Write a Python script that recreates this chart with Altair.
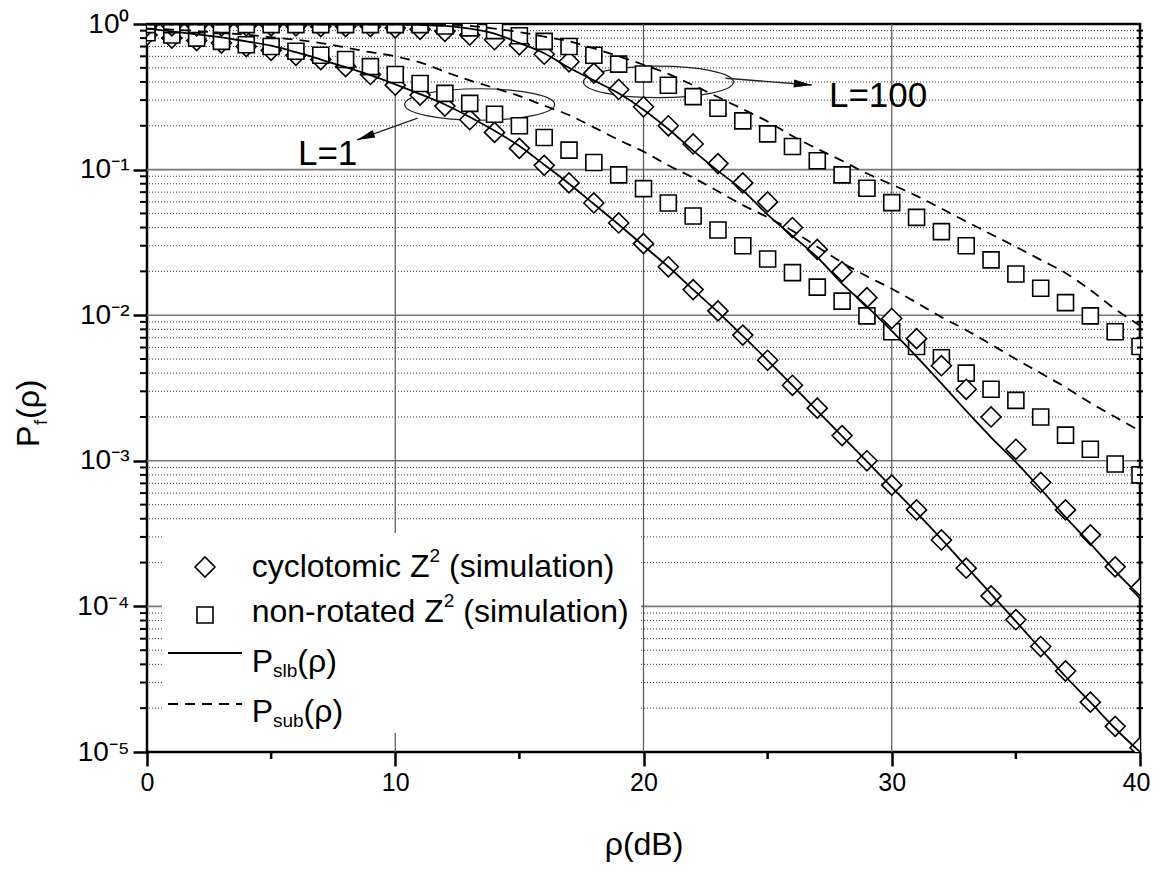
import altair as alt
import pandas as pd

FONT = "Liberation Sans"

# ---------------- data ----------------
rho = list(range(41))

cyc_L1 = [0.84, 0.80, 0.77, 0.74, 0.70, 0.66, 0.61, 0.57, 0.51, 0.45,
          0.38, 0.325, 0.273, 0.22, 0.18, 0.14, 0.107, 0.081, 0.059, 0.043,
          0.031, 0.0215, 0.015, 0.0107, 0.0073, 0.0049, 0.0033, 0.0023, 0.00149, 0.00100,
          0.00068, 0.00046, 0.000286, 0.000183, 0.000118, 8.1e-5, 5.3e-5, 3.6e-5, 2.2e-5, 1.5e-5,
          1.07e-5]
nonrot_L1 = [0.87, 0.84, 0.80, 0.76, 0.72, 0.70, 0.65, 0.61, 0.57, 0.51,
             0.45, 0.39, 0.334, 0.285, 0.24, 0.20, 0.166, 0.136, 0.112, 0.092,
             0.074, 0.059, 0.048, 0.0385, 0.030, 0.0243, 0.0196, 0.0156, 0.0125, 0.0099,
             0.0077, 0.0061, 0.0051, 0.0040, 0.0031, 0.0026, 0.0020, 0.0015, 0.0012, 0.00095,
             0.00080]
slb_L1 = [0.93, 0.89, 0.85, 0.81, 0.76, 0.71, 0.64, 0.57, 0.505, 0.445,
          0.385, 0.33, 0.28, 0.23, 0.185, 0.145, 0.108, 0.080, 0.058, 0.042,
          0.030, 0.0215, 0.0150, 0.0105, 0.0072, 0.0049, 0.0033, 0.0022, 0.00148, 0.00099,
          0.00066, 0.00044, 0.00029, 0.000188, 0.000122, 7.9e-5, 5.1e-5, 3.3e-5, 2.2e-5, 1.45e-5,
          1.0e-5]
sub_L1 = [0.93, 0.915, 0.895, 0.87, 0.845, 0.81, 0.78, 0.74, 0.69, 0.64,
          0.60, 0.545, 0.47, 0.41, 0.363, 0.32, 0.275, 0.237, 0.195, 0.16,
          0.133, 0.107, 0.088, 0.071, 0.057, 0.047, 0.038, 0.0295, 0.023, 0.0185,
          0.0152, 0.0122, 0.0097, 0.0079, 0.0063, 0.0050, 0.0040, 0.0032, 0.0025, 0.0020,
          0.0016]

cyc_L100 = [0.97, 0.97, 0.97, 0.97, 0.97, 0.97, 0.97, 0.96, 0.96, 0.96,
            0.94, 0.92, 0.89, 0.84, 0.78, 0.72, 0.62, 0.55, 0.46, 0.355,
            0.27, 0.20, 0.15, 0.110, 0.081, 0.060, 0.040, 0.0283, 0.0199, 0.0132,
            0.0095, 0.0069, 0.0045, 0.0031, 0.0020, 0.0012, 0.00071, 0.00046, 0.00031, 0.000187,
            0.000133]
nonrot_L100 = [0.99, 0.99, 0.99, 0.99, 0.99, 0.99, 0.99, 0.99, 0.99, 0.99,
               0.99, 0.99, 0.97, 0.94, 0.90, 0.83, 0.76, 0.70, 0.61, 0.53,
               0.454, 0.38, 0.317, 0.264, 0.216, 0.176, 0.144, 0.115, 0.092, 0.0744,
               0.0593, 0.047, 0.0375, 0.030, 0.024, 0.0192, 0.0153, 0.0122, 0.0099, 0.0077,
               0.0061]
slb_L100 = [0.99, 0.99, 0.99, 0.99, 0.99, 0.99, 0.99, 0.99, 0.99, 0.99,
            0.99, 0.985, 0.97, 0.93, 0.86, 0.74, 0.63, 0.50, 0.41, 0.334,
            0.258, 0.19, 0.135, 0.098, 0.072, 0.049, 0.035, 0.025, 0.0165, 0.0115,
            0.0078, 0.0052, 0.0034, 0.0022, 0.00145, 0.00098, 0.00064, 0.00041, 0.00027, 0.000175,
            0.000118]
sub_L100 = [0.995, 0.995, 0.995, 0.995, 0.995, 0.995, 0.995, 0.995, 0.995, 0.995,
            0.995, 0.995, 0.995, 0.97, 0.93, 0.88, 0.82, 0.76, 0.68, 0.60,
            0.525, 0.454, 0.38, 0.315, 0.26, 0.214, 0.17, 0.139, 0.115, 0.094,
            0.079, 0.066, 0.054, 0.044, 0.036, 0.0295, 0.024, 0.0195, 0.0149, 0.011,
            0.0085]

# axis / grid values
x_ticks = [0, 10, 20, 30, 40]
x_minor = [5, 15, 25, 35]
x_grid = [10, 20, 30]
y_decades = [1, 0.1, 0.01, 0.001, 0.0001, 0.00001]
y_major_grid = [0.1, 0.01, 0.001, 0.0001]
mantissas = [2, 3, 4, 5, 6, 7, 8, 9]
y_minor = [m * d for d in y_decades[1:] for m in mantissas]

# annotations (data coordinates)
ell_x = [13.4, 20.6]
ell_y = [0.28, 0.40]
arrow_x = [10.9, 23.3]
arrow_y = [0.226, 0.424]
arrow_x2 = [8.46, 26.78]
arrow_y2 = [0.160, 0.381]
arrow_angle = [250, 95]
label_text = ["L=1", "L=100"]
label_x = [6.08, 27.47]
label_y = [0.1076, 0.269]

W, H = 993, 728

# ---------------- shared scales & axes ----------------
xs = alt.Scale(domain=[0, 40], nice=False, zero=False)
ys = alt.Scale(type="log", domain=[1e-5, 1], nice=False)

AX_X = alt.Axis(
    values=x_ticks, title="ρ(dB)", grid=False, domain=False, tickSize=14,
    tickWidth=2.5, tickColor="black", labelFont=FONT, labelFontSize=25,
    labelColor="black", labelPadding=4, titleFont=FONT, titleFontSize=32,
    titleFontWeight="normal", titleColor="black", titlePadding=34, labelFlush=False,
    labelOffset={"condition": {"test": "datum.value == 40", "value": -4}, "value": 0})
AX_Y = alt.Axis(
    values=y_decades, grid=False, domain=False, tickSize=14, tickWidth=2.5,
    tickColor="black", labelFont=FONT, labelFontSize=28, labelColor="black",
    labelPadding=4, title=None,
    labelExpr="'10' + ['⁰','⁻¹','⁻²','⁻³','⁻⁴','⁻⁵'][round(-log(datum.value)/LN10)]")


def X(f="x"):
    return alt.X(f"{f}:Q", scale=xs, axis=AX_X)


def Y(f="y"):
    return alt.Y(f"{f}:Q", scale=ys, axis=AX_Y)


one = pd.DataFrame({"k": [0]})


def txt(s, x, y, size, angle=0):
    return alt.Chart(one).mark_text(
        text=s, font=FONT, fontSize=size, align="left", baseline="alphabetic",
        angle=angle, color="black"
    ).encode(x=alt.value(x), y=alt.value(y))


def series_df(vals):
    return pd.DataFrame({"x": rho, "y": vals})


# ---------------- grid ----------------
minor_grid = alt.Chart(pd.DataFrame({"y": y_minor})).mark_rule(
    color="#3a3a3a", strokeWidth=1, strokeDash=[1, 2]).encode(y=Y())
major_grid = alt.Chart(pd.DataFrame({"y": y_major_grid})).mark_rule(
    color="#777777", strokeWidth=1.6).encode(y=Y())
vert_grid = alt.Chart(pd.DataFrame({"x": x_grid})).mark_rule(
    color="#555555", strokeWidth=1.2).encode(x=X())

legend_box = alt.Chart(one).mark_rect(fill="white").encode(
    x=alt.value(15), x2=alt.value(494), y=alt.value(509), y2=alt.value(709))

# ---------------- annotations ----------------
k = 0.5523
r = 0.21
ell_path = (f"M -1 0 C -1 {-k*r:.4f} {-k:.4f} {-r} 0 {-r} C {k:.4f} {-r} 1 {-k*r:.4f} 1 0 "
            f"C 1 {k*r:.4f} {k:.4f} {r} 0 {r} C {-k:.4f} {r} -1 {k*r:.4f} -1 0 Z")
ann = pd.DataFrame({"x": ell_x, "y": ell_y})
ellipses = alt.Chart(ann).mark_point(
    shape=ell_path, size=22500, filled=False, stroke="#222222", strokeWidth=1.2, opacity=1
).encode(x=X(), y=Y())

arr = pd.DataFrame({"x": arrow_x, "y": arrow_y, "x2": arrow_x2, "y2": arrow_y2, "a": arrow_angle})
arrow_lines = alt.Chart(arr).mark_rule(color="#222222", strokeWidth=1.3).encode(
    x=X(), y=Y(), x2="x2:Q", y2="y2:Q")
arrow_heads = alt.Chart(arr).mark_point(
    shape="M 0 0 L 0.45 2 L -0.45 2 Z", size=324, filled=True, color="black", opacity=1
).encode(x=X("x2"), y=Y("y2"), angle=alt.Angle("a:Q", scale=None))

labs = pd.DataFrame({"x": label_x, "y": label_y, "t": label_text})
l_labels = alt.Chart(labs).mark_text(
    font=FONT, fontSize=35, align="left", baseline="alphabetic", color="black"
).encode(x=X(), y=Y(), text="t:N")


# ---------------- data layers ----------------
def line_layer(vals, dash):
    kw = dict(color="black", strokeWidth=1.8, clip=True, interpolate="monotone")
    if dash:
        kw["strokeDash"] = [10, 7]
    return alt.Chart(series_df(vals)).mark_line(**kw).encode(x=X(), y=Y())


def point_layer(vals, shape, size):
    return alt.Chart(series_df(vals)).mark_point(
        shape=shape, size=size, filled=True, fill="white", stroke="black",
        strokeWidth=1.6, opacity=1, clip=True
    ).encode(x=X(), y=Y())


pts = [
    point_layer(cyc_L1, "diamond", 400),
    point_layer(nonrot_L1, "square", 256),
    point_layer(cyc_L100, "diamond", 400),
    point_layer(nonrot_L100, "square", 256),
]
lines = [
    line_layer(slb_L1, False), line_layer(sub_L1, True),
    line_layer(slb_L100, False), line_layer(sub_L100, True),
]

# ---------------- minor ticks (left, bottom) and small ticks on the right frame ----------------
y_minor_ticks = alt.Chart(pd.DataFrame({"y": y_minor})).mark_rule(
    color="black", strokeWidth=2).encode(y=Y(), x=alt.value(-7), x2=alt.value(0))
x_minor_ticks = alt.Chart(pd.DataFrame({"x": x_minor})).mark_rule(
    color="black", strokeWidth=2.5).encode(x=X(), y=alt.value(H), y2=alt.value(H + 7))
right_ticks = alt.Chart(pd.DataFrame({"y": y_minor + y_major_grid})).mark_rule(
    color="black", strokeWidth=2).encode(y=Y(), x=alt.value(W - 3), x2=alt.value(W + 3))

# ---------------- legend (manual, with sub/superscripts) ----------------
leg_diamond = alt.Chart(one).mark_point(
    shape="diamond", size=400, filled=True, fill="white", stroke="black", strokeWidth=1.6, opacity=1
).encode(x=alt.value(58), y=alt.value(543))
leg_square = alt.Chart(one).mark_point(
    shape="square", size=256, filled=True, fill="white", stroke="black", strokeWidth=1.6, opacity=1
).encode(x=alt.value(58), y=alt.value(591))
leg_solid = alt.Chart(one).mark_rule(color="black", strokeWidth=1.8).encode(
    x=alt.value(21), x2=alt.value(95), y=alt.value(629))
leg_dash = alt.Chart(one).mark_rule(color="black", strokeWidth=1.8, strokeDash=[10, 7]).encode(
    x=alt.value(21), x2=alt.value(95), y=alt.value(680))

FS, SS = 32, 19
legend_text = [
    txt("cyclotomic Z", 104.7, 553, FS), txt("2", 282.5, 538, SS), txt("(simulation)", 302, 553, FS),
    txt("non-rotated Z", 104.7, 598, FS), txt("2", 296.8, 583, SS), txt("(simulation)", 316.3, 598, FS),
    txt("P", 104.7, 648, FS), txt("slb", 126, 653, SS), txt("(ρ)", 150.3, 648, FS),
    txt("P", 104.7, 698, FS), txt("sub", 126, 703, SS), txt("(ρ)", 156.6, 698, FS),
]

# y axis title P_f(ρ), rotated
y_title = [
    txt("P", -108, 423, 32, angle=270),
    txt("f", -100, 401, 19, angle=270),
    txt("(ρ)", -108, 395, 32, angle=270),
]

chart = alt.layer(
    minor_grid, major_grid, vert_grid, legend_box,
    ellipses, arrow_lines, arrow_heads,
    *pts, *lines,
    leg_diamond, leg_square, leg_solid, leg_dash, *legend_text,
    l_labels, y_minor_ticks, x_minor_ticks, right_ticks, *y_title,
).properties(
    width=W, height=H,
    padding={"left": 139, "top": 16, "right": 11, "bottom": 113},
    autosize=alt.AutoSizeParams(type="none"),
).configure_view(stroke="black", strokeWidth=2.5)

chart.save("out.html", embed_options={"renderer": "svg", "actions": False})
